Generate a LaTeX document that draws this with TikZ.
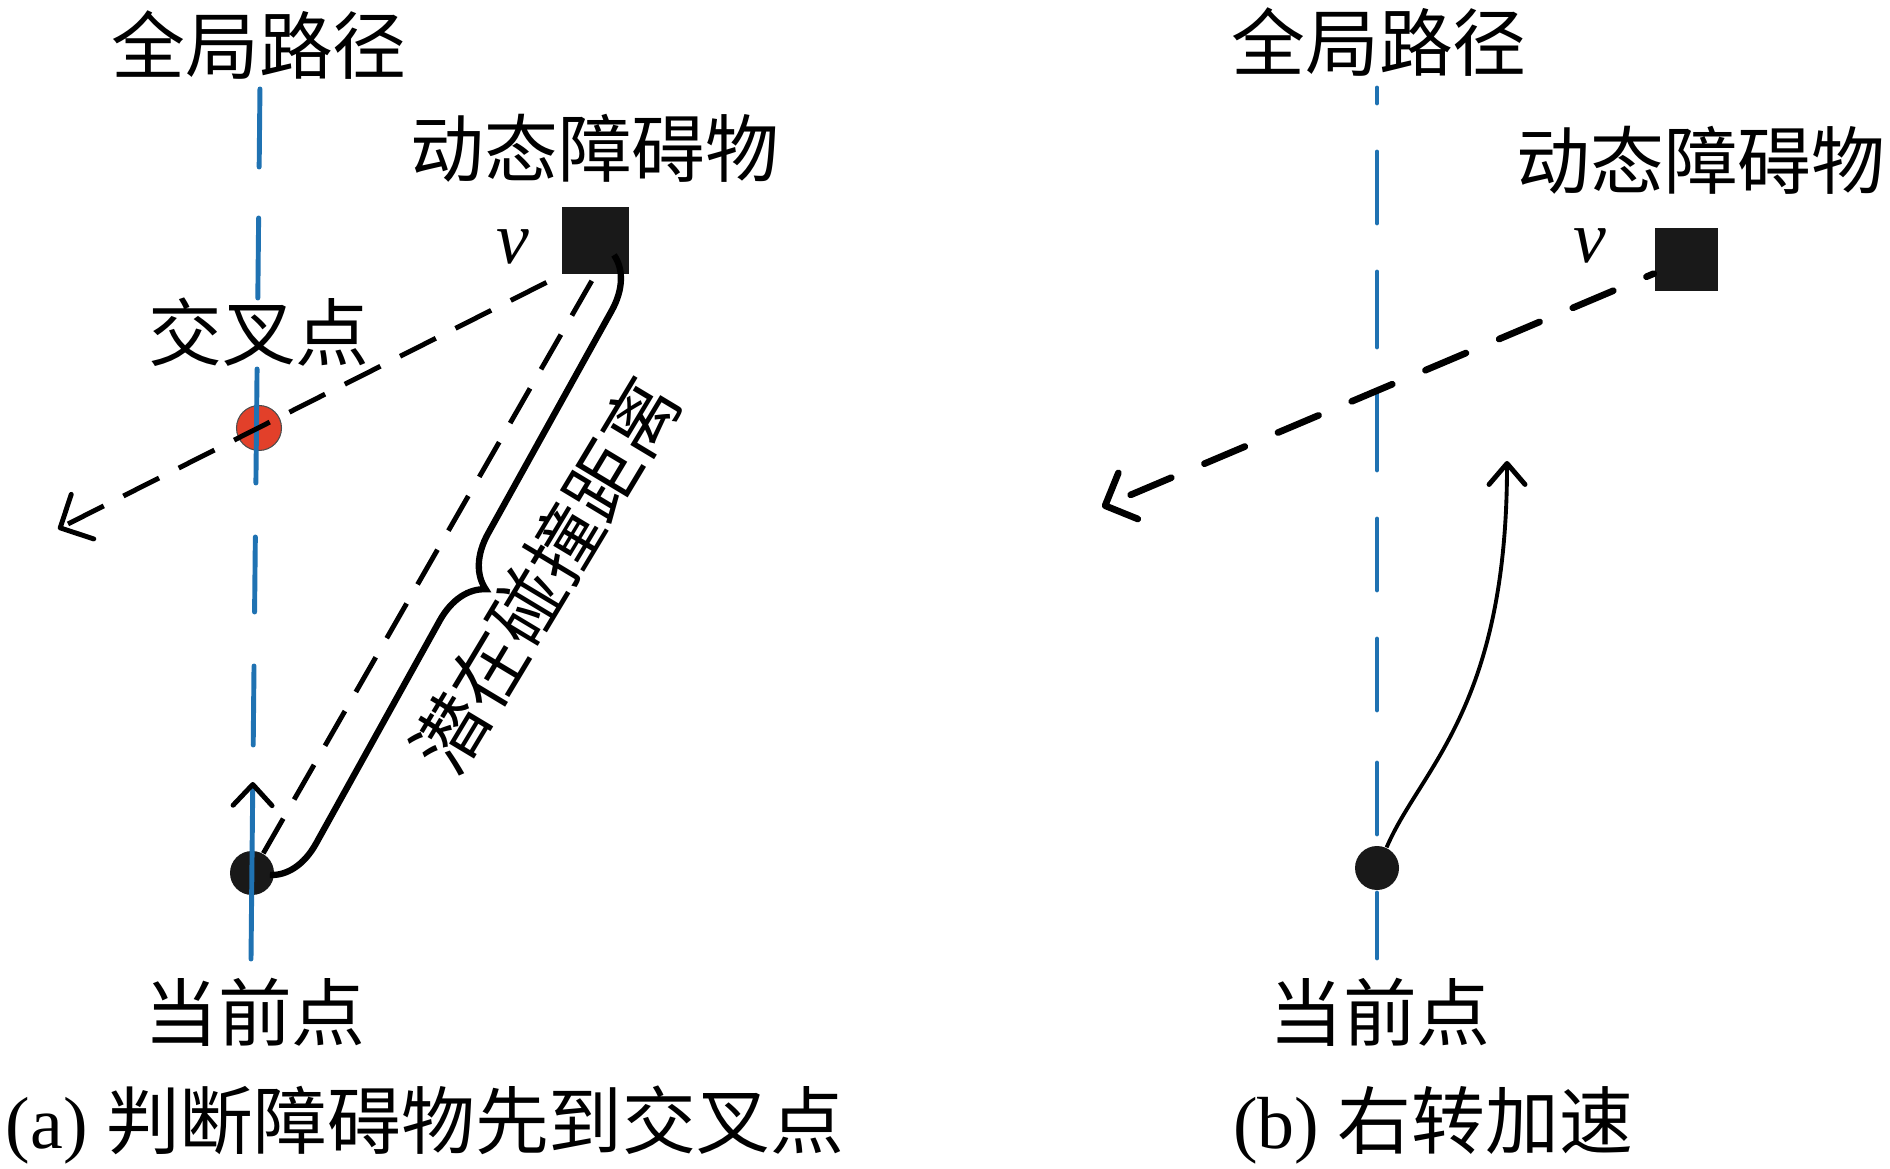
\documentclass[tikz,border=0pt]{standalone}
\usepackage{fontspec}
\setmainfont{Liberation Serif}
\newfontfamily\cjk{Noto Sans CJK SC}
\usetikzlibrary{arrows.meta,decorations.pathreplacing}
\definecolor{pathblue}{RGB}{31,114,178}
\definecolor{crossred}{RGB}{226,64,42}
\tikzset{
  pathline/.style={draw=pathblue, line width=1.4pt, line cap=round},
  motion/.style={line width=1.4pt, dash pattern=on 4mm off 2.2mm},
  obstacle/.style={rectangle, fill=black!90, inner sep=0pt},
  egodot/.style={circle, fill=black!90, minimum size=4.4mm, inner sep=0pt},
  lbl/.style={font=\cjk\fontsize{21}{25}\selectfont, inner sep=0pt},
  vlbl/.style={font=\fontsize{21}{25}\selectfont\itshape, inner sep=0pt},
  barb/.style={-{Straight Barb[round, length=2.5mm, width=5mm]}}
}

\begin{document}
\begin{tikzpicture}[x=0.1mm, y=-0.1mm]
\useasboundingbox (0,0) rectangle (1890,1169);

% (a) obstacle reaches the crossing first
\node[circle, fill=crossred, draw=black!70, line width=0.3pt, minimum size=4.5mm, inner sep=0pt] (crossA) at (259,428) {};
\node[obstacle, minimum size=6.7mm] (obsA) at (595,241) {};
\node[egodot] (dotA) at (252,873) {};
\coordinate (tipA) at (58,529);
\coordinate (braceTop) at (614,255);
\coordinate (braceBot) at (270,875);

\node[lbl] (pathLblA) at (259,45) {全局路径};
\node[lbl] (obsLblA) at (595,148) {动态障碍物};
\node[vlbl] (vA) at (513,247) {v};
\node[lbl] (crossLbl) at (259,332) {交叉点};
\node[lbl] (curLblA) at (255,1012) {当前点};
\node[lbl, rotate=59] (distLbl) at (545,575) {潜在碰撞距离};
\node[lbl] (capA) at (425,1125) {\rmfamily(a) \cjk 判断障碍物先到交叉点};

% global path, drawn by hand
\foreach \ya/\yb in {89/167,218/298,369/483,537/612,666/745}
  \draw[pathline] ({260-9*(\ya-85)/874},\ya) -- ({260-9*(\yb-85)/874},\yb);
\draw[pathline, -{Straight Barb[round, color=black, line width=1.4pt, length=2.1mm, width=3.9mm]}] (251,959) -- (252.8,782);

% obstacle motion and distance
\draw[motion, barb, dash phase=4.6mm] (obsA.south west) -- (tipA);
\draw[motion] (dotA) -- (obsA.south);
\draw[line width=1.8pt, decorate, decoration={brace, amplitude=5mm}] (braceTop) -- (braceBot);

% (b) turn right and speed up
\node[obstacle, minimum size=6.3mm] (obsB) at (1686,260) {};
\node[egodot] (dotB) at (1377,868) {};
\coordinate (tipB) at (1102,507);
\coordinate (turnB) at (1507,461);

\node[lbl] (pathLblB) at (1379,42) {全局路径};
\node[lbl] (obsLblB) at (1701,160) {动态障碍物};
\node[vlbl] (vB) at (1590,246) {v};
\node[lbl] (curLblB) at (1380,1012) {当前点};
\node[lbl] (capB) at (1433,1125) {\rmfamily(b) \cjk 右转加速};

\foreach \ya/\yb in {88/103,152/223,272/347,392/470,519/590,639/710,763/834}
  \draw[pathline] (1377,\ya) -- (1377,\yb);
\draw[pathline] (1377,893) -- (1377,958);

\draw[line width=1.9pt, line cap=round, dash pattern=on 4.4mm off 3.6mm, dash phase=3.6mm, barb] (obsB) -- (tipB);
\draw[line width=1.1pt, -{Straight Barb[round, line width=1.4pt, length=2.1mm, width=3.6mm]}] (dotB.65) .. controls (1420,769) and (1507,709) .. (turnB);
\end{tikzpicture}
\end{document}
